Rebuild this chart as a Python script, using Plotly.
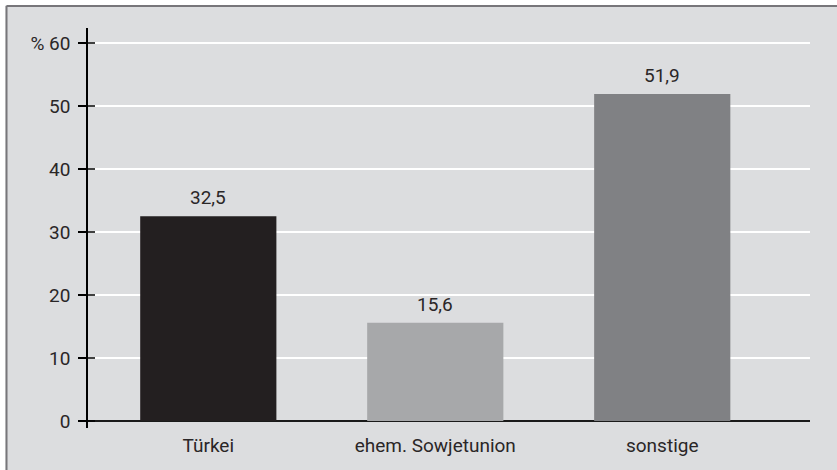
import plotly.graph_objects as go

# ---- data ----
categories = ["Türkei", "ehem. Sowjetunion", "sonstige"]
values = [32.5, 15.6, 51.9]
bar_colors = ["#231f20", "#a7a8aa", "#808184"]
tick_vals = [0, 10, 20, 30, 40, 50, 60]
tick_text = ["0", "10", "20", "30", "40", "50", "% 60"]

W, H = 837, 470
ML, MR, MT, MB = 88, 27, 28, 42
PW, PH = W - ML - MR, H - MT - MB

def px2x(px):
    return (px - ML) / PW

def px2y(py):
    return (H - MB - py) / PH

BG = "#dcdddf"
TXT = "#2a2627"
FONT = "Roboto"

fig = go.Figure()
fig.add_trace(go.Bar(
    x=list(range(len(categories))),
    y=values,
    marker=dict(color=bar_colors, line=dict(width=0)),
    width=0.6,
    hoverinfo="skip",
))

annotations = []
for i, v in enumerate(values):
    annotations.append(dict(
        x=i, y=v, xref="x", yref="y",
        text=f"{v:.1f}".replace(".", ","),
        showarrow=False, yanchor="bottom", yshift=5,
        font=dict(family=FONT, size=19, color=TXT),
    ))

shapes = []
# inside halves of the y ticks (crossing ticks)
for t in tick_vals:
    shapes.append(dict(type="line", xref="paper", yref="y",
                       x0=px2x(88), x1=px2x(95), y0=t, y1=t,
                       line=dict(color="black", width=1.5), layer="above"))
# frame: white outside area, gray top/left borders
shapes.append(dict(type="rect", xref="paper", yref="paper",
                   x0=px2x(-5), x1=px2x(5.5), y0=px2y(480), y1=px2y(-5),
                   fillcolor="white", line=dict(width=0), layer="below"))
shapes.append(dict(type="rect", xref="paper", yref="paper",
                   x0=px2x(-5), x1=px2x(845), y0=px2y(5), y1=px2y(-5),
                   fillcolor="white", line=dict(width=0), layer="below"))
shapes.append(dict(type="line", xref="paper", yref="paper",
                   x0=px2x(6.5), x1=px2x(6.5), y0=px2y(480), y1=px2y(6),
                   line=dict(color="#77767a", width=2), layer="below"))
shapes.append(dict(type="line", xref="paper", yref="paper",
                   x0=px2x(6.5), x1=px2x(845), y0=px2y(6), y1=px2y(6),
                   line=dict(color="#77767a", width=2), layer="below"))

y_lo = -7 / 6.3
y_hi = 60 + 15 / 6.3

fig.update_layout(
    width=W, height=H,
    margin=dict(l=ML, r=MR, t=MT, b=MB, pad=0),
    paper_bgcolor=BG, plot_bgcolor=BG,
    showlegend=False,
    bargap=0.4,
    font=dict(family=FONT, size=19, color=TXT),
    xaxis=dict(
        range=[-0.53, 2.651],
        tickmode="array",
        tickvals=list(range(len(categories))),
        ticktext=categories,
        showgrid=False, zeroline=False, showline=False,
        ticks="", ticklabelstandoff=4,
        tickfont=dict(family=FONT, size=19, color=TXT),
        fixedrange=True,
    ),
    yaxis=dict(
        range=[y_lo, y_hi],
        tickmode="array",
        tickvals=tick_vals,
        ticktext=tick_text,
        showgrid=True, gridcolor="white", gridwidth=2,
        zeroline=True, zerolinecolor="#1a1a1a", zerolinewidth=1.5,
        showline=True, linecolor="black", linewidth=1.5,
        ticks="outside", ticklen=8, tickwidth=1.5, tickcolor="black",
        ticklabelstandoff=4,
        tickfont=dict(family=FONT, size=19, color=TXT),
        fixedrange=True,
    ),
    annotations=annotations,
    shapes=shapes,
)

fig.write_html("out.html", config={"displayModeBar": False})
